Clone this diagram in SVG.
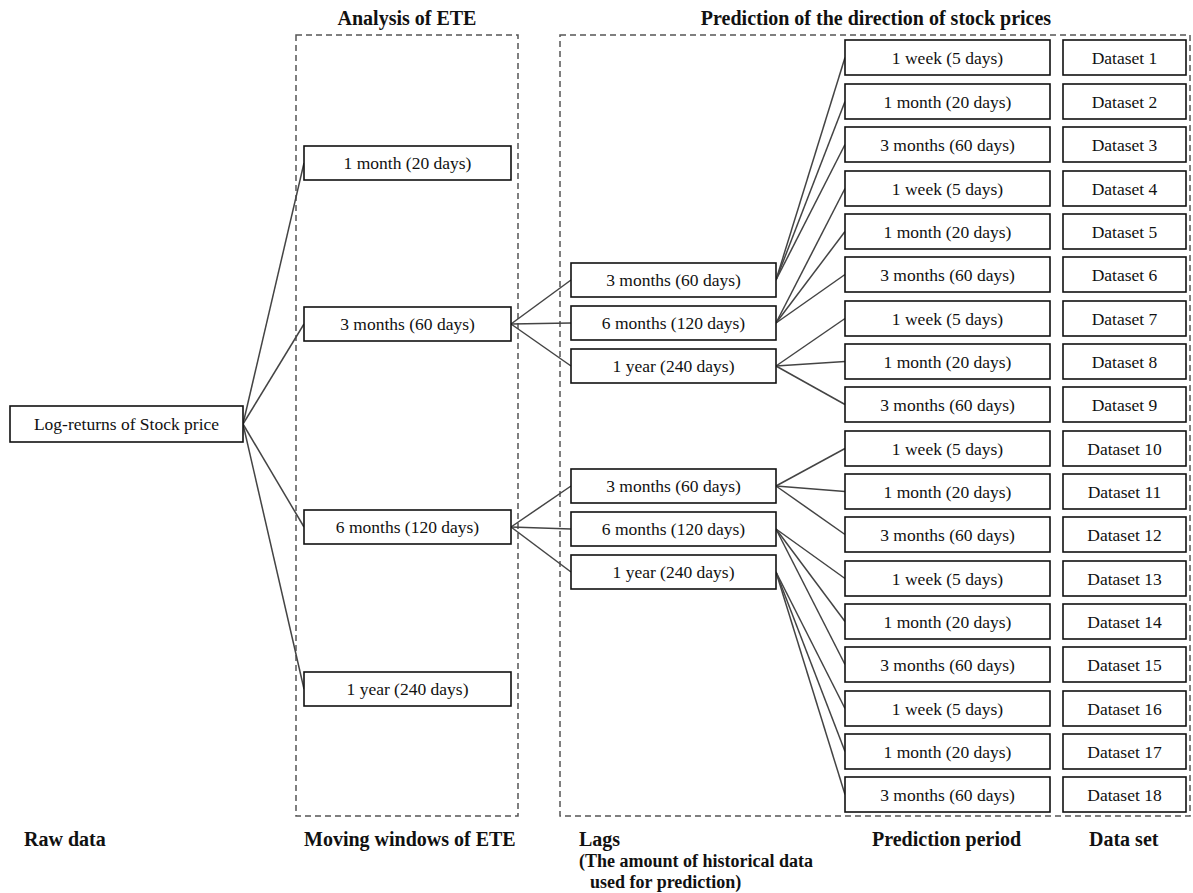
<svg xmlns="http://www.w3.org/2000/svg" width="1193" height="893" viewBox="0 0 1193 893">
<style>
.bx{fill:#fff;stroke:#111;stroke-width:1.6}
.t{font-family:"Liberation Serif","Times New Roman",serif;font-size:17.5px;fill:#111;text-anchor:middle;dominant-baseline:central}
.h{font-family:"Liberation Serif","Times New Roman",serif;font-size:20px;font-weight:bold;fill:#111}
.s{font-family:"Liberation Serif","Times New Roman",serif;font-size:18px;font-weight:bold;fill:#111}
.dash{fill:none;stroke:#555;stroke-width:1.5;stroke-dasharray:6 4}
.c line{stroke:#444;stroke-width:1.5}
</style>
<rect width="1193" height="893" fill="#fff"/>
<g id="groups">
<rect class="dash" x="296" y="35" width="222" height="781"/>
<rect class="dash" x="560" y="35" width="630" height="781"/>
</g>
<g id="headers">
<text class="h" x="407" y="25" text-anchor="middle">Analysis of ETE</text>
<text class="h" x="876" y="25" text-anchor="middle">Prediction of the direction of stock prices</text>
<text class="h" x="24" y="846">Raw data</text>
<text class="h" x="304" y="846">Moving windows of ETE</text>
<text class="h" x="579" y="846">Lags</text>
<text class="s" x="579" y="867">(The amount of historical data</text>
<text class="s" x="590" y="888">used for prediction)</text>
<text class="h" x="872" y="846">Prediction period</text>
<text class="h" x="1089" y="846">Data set</text>
</g>
<g class="c" id="connectors">
<line x1="243" y1="424" x2="304" y2="163"/>
<line x1="243" y1="424" x2="304" y2="324"/>
<line x1="243" y1="424" x2="304" y2="527"/>
<line x1="243" y1="424" x2="304" y2="689"/>
<line x1="511" y1="324" x2="571" y2="280"/>
<line x1="511" y1="324" x2="571" y2="323"/>
<line x1="511" y1="324" x2="571" y2="366"/>
<line x1="511" y1="527" x2="571" y2="486"/>
<line x1="511" y1="527" x2="571" y2="529"/>
<line x1="511" y1="527" x2="571" y2="572"/>
<line x1="776" y1="280" x2="845" y2="57.5"/>
<line x1="776" y1="280" x2="845" y2="101.5"/>
<line x1="776" y1="280" x2="845" y2="144.5"/>
<line x1="776" y1="323" x2="845" y2="188.5"/>
<line x1="776" y1="323" x2="845" y2="231.5"/>
<line x1="776" y1="323" x2="845" y2="274.5"/>
<line x1="776" y1="366" x2="845" y2="318.5"/>
<line x1="776" y1="366" x2="845" y2="361.5"/>
<line x1="776" y1="366" x2="845" y2="404.5"/>
<line x1="776" y1="486" x2="845" y2="448.5"/>
<line x1="776" y1="486" x2="845" y2="491.5"/>
<line x1="776" y1="486" x2="845" y2="534.5"/>
<line x1="776" y1="529" x2="845" y2="578.5"/>
<line x1="776" y1="529" x2="845" y2="621.5"/>
<line x1="776" y1="529" x2="845" y2="664.5"/>
<line x1="776" y1="572" x2="845" y2="708.5"/>
<line x1="776" y1="572" x2="845" y2="751.5"/>
<line x1="776" y1="572" x2="845" y2="794.5"/>
</g>
<g id="raw"><rect class="bx" x="10" y="406" width="233" height="36"/><text class="t" x="126.5" y="424">Log-returns of Stock price</text></g>
<g id="w1"><rect class="bx" x="304" y="146" width="207" height="34"/><text class="t" x="407.5" y="163">1 month (20 days)</text></g>
<g id="w2"><rect class="bx" x="304" y="307" width="207" height="34"/><text class="t" x="407.5" y="324">3 months (60 days)</text></g>
<g id="w3"><rect class="bx" x="304" y="510" width="207" height="34"/><text class="t" x="407.5" y="527">6 months (120 days)</text></g>
<g id="w4"><rect class="bx" x="304" y="672" width="207" height="34"/><text class="t" x="407.5" y="689">1 year (240 days)</text></g>
<g id="l1"><rect class="bx" x="571" y="263" width="205" height="34"/><text class="t" x="673.5" y="280">3 months (60 days)</text></g>
<g id="l2"><rect class="bx" x="571" y="306" width="205" height="34"/><text class="t" x="673.5" y="323">6 months (120 days)</text></g>
<g id="l3"><rect class="bx" x="571" y="349" width="205" height="34"/><text class="t" x="673.5" y="366">1 year (240 days)</text></g>
<g id="l4"><rect class="bx" x="571" y="469" width="205" height="34"/><text class="t" x="673.5" y="486">3 months (60 days)</text></g>
<g id="l5"><rect class="bx" x="571" y="512" width="205" height="34"/><text class="t" x="673.5" y="529">6 months (120 days)</text></g>
<g id="l6"><rect class="bx" x="571" y="555" width="205" height="34"/><text class="t" x="673.5" y="572">1 year (240 days)</text></g>
<g id="p1"><rect class="bx" x="845" y="40" width="205" height="35"/><text class="t" x="947.5" y="57.5">1 week (5 days)</text></g>
<g id="p2"><rect class="bx" x="845" y="84" width="205" height="35"/><text class="t" x="947.5" y="101.5">1 month (20 days)</text></g>
<g id="p3"><rect class="bx" x="845" y="127" width="205" height="35"/><text class="t" x="947.5" y="144.5">3 months (60 days)</text></g>
<g id="p4"><rect class="bx" x="845" y="171" width="205" height="35"/><text class="t" x="947.5" y="188.5">1 week (5 days)</text></g>
<g id="p5"><rect class="bx" x="845" y="214" width="205" height="35"/><text class="t" x="947.5" y="231.5">1 month (20 days)</text></g>
<g id="p6"><rect class="bx" x="845" y="257" width="205" height="35"/><text class="t" x="947.5" y="274.5">3 months (60 days)</text></g>
<g id="p7"><rect class="bx" x="845" y="301" width="205" height="35"/><text class="t" x="947.5" y="318.5">1 week (5 days)</text></g>
<g id="p8"><rect class="bx" x="845" y="344" width="205" height="35"/><text class="t" x="947.5" y="361.5">1 month (20 days)</text></g>
<g id="p9"><rect class="bx" x="845" y="387" width="205" height="35"/><text class="t" x="947.5" y="404.5">3 months (60 days)</text></g>
<g id="p10"><rect class="bx" x="845" y="431" width="205" height="35"/><text class="t" x="947.5" y="448.5">1 week (5 days)</text></g>
<g id="p11"><rect class="bx" x="845" y="474" width="205" height="35"/><text class="t" x="947.5" y="491.5">1 month (20 days)</text></g>
<g id="p12"><rect class="bx" x="845" y="517" width="205" height="35"/><text class="t" x="947.5" y="534.5">3 months (60 days)</text></g>
<g id="p13"><rect class="bx" x="845" y="561" width="205" height="35"/><text class="t" x="947.5" y="578.5">1 week (5 days)</text></g>
<g id="p14"><rect class="bx" x="845" y="604" width="205" height="35"/><text class="t" x="947.5" y="621.5">1 month (20 days)</text></g>
<g id="p15"><rect class="bx" x="845" y="647" width="205" height="35"/><text class="t" x="947.5" y="664.5">3 months (60 days)</text></g>
<g id="p16"><rect class="bx" x="845" y="691" width="205" height="35"/><text class="t" x="947.5" y="708.5">1 week (5 days)</text></g>
<g id="p17"><rect class="bx" x="845" y="734" width="205" height="35"/><text class="t" x="947.5" y="751.5">1 month (20 days)</text></g>
<g id="p18"><rect class="bx" x="845" y="777" width="205" height="35"/><text class="t" x="947.5" y="794.5">3 months (60 days)</text></g>
<g id="d1"><rect class="bx" x="1063" y="40" width="123" height="35"/><text class="t" x="1124.5" y="57.5">Dataset 1</text></g>
<g id="d2"><rect class="bx" x="1063" y="84" width="123" height="35"/><text class="t" x="1124.5" y="101.5">Dataset 2</text></g>
<g id="d3"><rect class="bx" x="1063" y="127" width="123" height="35"/><text class="t" x="1124.5" y="144.5">Dataset 3</text></g>
<g id="d4"><rect class="bx" x="1063" y="171" width="123" height="35"/><text class="t" x="1124.5" y="188.5">Dataset 4</text></g>
<g id="d5"><rect class="bx" x="1063" y="214" width="123" height="35"/><text class="t" x="1124.5" y="231.5">Dataset 5</text></g>
<g id="d6"><rect class="bx" x="1063" y="257" width="123" height="35"/><text class="t" x="1124.5" y="274.5">Dataset 6</text></g>
<g id="d7"><rect class="bx" x="1063" y="301" width="123" height="35"/><text class="t" x="1124.5" y="318.5">Dataset 7</text></g>
<g id="d8"><rect class="bx" x="1063" y="344" width="123" height="35"/><text class="t" x="1124.5" y="361.5">Dataset 8</text></g>
<g id="d9"><rect class="bx" x="1063" y="387" width="123" height="35"/><text class="t" x="1124.5" y="404.5">Dataset 9</text></g>
<g id="d10"><rect class="bx" x="1063" y="431" width="123" height="35"/><text class="t" x="1124.5" y="448.5">Dataset 10</text></g>
<g id="d11"><rect class="bx" x="1063" y="474" width="123" height="35"/><text class="t" x="1124.5" y="491.5">Dataset 11</text></g>
<g id="d12"><rect class="bx" x="1063" y="517" width="123" height="35"/><text class="t" x="1124.5" y="534.5">Dataset 12</text></g>
<g id="d13"><rect class="bx" x="1063" y="561" width="123" height="35"/><text class="t" x="1124.5" y="578.5">Dataset 13</text></g>
<g id="d14"><rect class="bx" x="1063" y="604" width="123" height="35"/><text class="t" x="1124.5" y="621.5">Dataset 14</text></g>
<g id="d15"><rect class="bx" x="1063" y="647" width="123" height="35"/><text class="t" x="1124.5" y="664.5">Dataset 15</text></g>
<g id="d16"><rect class="bx" x="1063" y="691" width="123" height="35"/><text class="t" x="1124.5" y="708.5">Dataset 16</text></g>
<g id="d17"><rect class="bx" x="1063" y="734" width="123" height="35"/><text class="t" x="1124.5" y="751.5">Dataset 17</text></g>
<g id="d18"><rect class="bx" x="1063" y="777" width="123" height="35"/><text class="t" x="1124.5" y="794.5">Dataset 18</text></g>
</svg>
